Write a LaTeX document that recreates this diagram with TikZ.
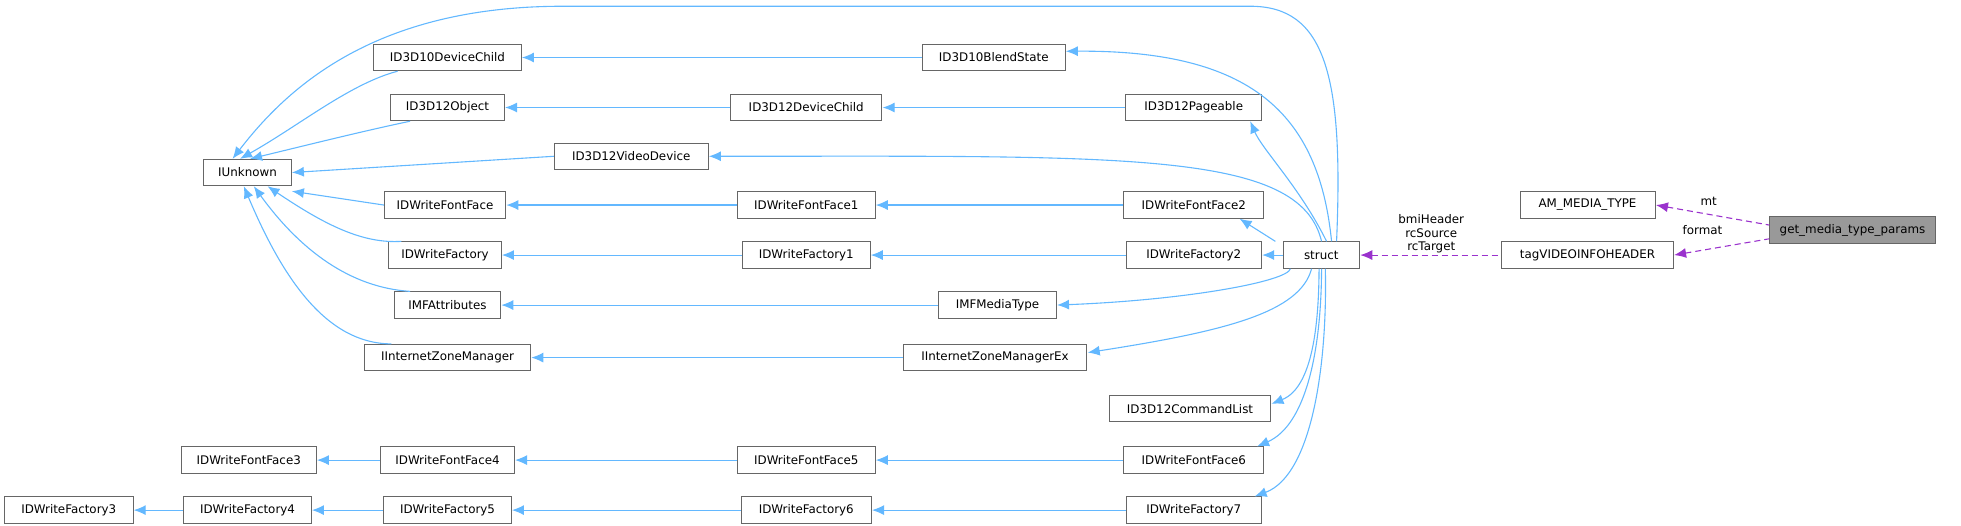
\documentclass[tikz,border=0pt]{standalone}
\usepackage{fontspec}
\setmainfont{DejaVu Sans}
\usetikzlibrary{arrows.meta}
\definecolor{eb}{HTML}{63B8FF}
\definecolor{ep}{HTML}{9A32CD}
\definecolor{bd}{HTML}{666666}
\begin{document}
\begin{tikzpicture}[x=1pt,y=-1pt,scale=1.25,every node/.append style={transform shape},
  box/.style={draw=bd,line width=0.9pt,fill=white,minimum height=21pt,inner sep=0pt,font=\fontsize{9.5}{11}\selectfont},
  inh/.style={draw=eb,line width=1.1pt,{Latex[length=12pt,width=10pt]}-},
  use/.style={draw=ep,line width=1.1pt,dash pattern=on 6pt off 4pt,{Latex[length=12pt,width=10pt]}-},
  lab/.style={font=\fontsize{9.5}{11}\selectfont,align=center,inner sep=0pt}]
\useasboundingbox (0,0) rectangle (1568.8,420.8);
\newcommand\N[5]{\node[box,minimum width=#4pt] (#1) at (#2,#3) {#5};}
\N{iu}{198}{138}{70}{IUnknown}
\N{d10c}{358}{46}{118}{ID3D10DeviceChild}
\N{d12o}{358}{86}{91}{ID3D12Object}
\N{vd}{505}{125}{123}{ID3D12VideoDevice}
\N{ff}{356}{164}{97}{IDWriteFontFace}
\N{fa}{356}{204}{90}{IDWriteFactory}
\N{mfa}{358}{244}{85}{IMFAttributes}
\N{izm}{358}{286}{133}{IInternetZoneManager}
\N{ff3}{199}{368}{108}{IDWriteFontFace3}
\N{ff4}{358}{368}{107}{IDWriteFontFace4}
\N{fa3}{55}{408}{103}{IDWriteFactory3}
\N{fa4}{198}{408}{102}{IDWriteFactory4}
\N{fa5}{358}{408}{102}{IDWriteFactory5}
\N{bs}{795}{46}{114}{ID3D10BlendState}
\N{d12c}{645}{86}{121}{ID3D12DeviceChild}
\N{ff1}{645}{164}{110}{IDWriteFontFace1}
\N{fa1}{645}{204}{102}{IDWriteFactory1}
\N{mt}{798}{244}{94}{IMFMediaType}
\N{izmx}{796}{286}{147}{IInternetZoneManagerEx}
\N{ff5}{645}{368}{110}{IDWriteFontFace5}
\N{fa6}{645}{408}{104}{IDWriteFactory6}
\N{pg}{955}{86}{109}{ID3D12Pageable}
\N{ff2}{955}{164}{112}{IDWriteFontFace2}
\N{fa2}{955}{204}{108}{IDWriteFactory2}
\N{cl}{952}{327}{129}{ID3D12CommandList}
\N{ff6}{955}{368}{112}{IDWriteFontFace6}
\N{fa7}{955}{408}{108}{IDWriteFactory7}
\N{st}{1057}{204}{61}{struct}
\N{tv}{1270}{204}{137}{tagVIDEOINFOHEADER}
\N{am}{1270}{164}{108}{AM\_MEDIA\_TYPE}
\node[box,minimum width=133pt,fill=gray!80] (gm) at (1482,184) {get\_media\_type\_params};
\coordinate (t1) at (1000,5);
\coordinate (t2) at (450,5);
% IUnknown
\draw[inh] ([xshift=-12pt]iu.north) .. controls (230,70) and (300,5) .. (t2) -- (t1) .. controls (1060,5) and (1075,60) .. ([xshift=12pt]st.north);
\draw[inh] ([xshift=-6pt]iu.north) .. controls (240,100) and (280,67) .. ([xshift=-40pt]d10c.south);
\draw[inh] ([xshift=2pt]iu.north) .. controls (250,115) and (290,105) .. ([xshift=-30pt]d12o.south);
\draw[inh] (iu.east) -- (vd.west);
\draw[inh] ([yshift=-4pt]iu.south east) -- (ff.west);
\draw[inh] ([xshift=16pt]iu.south) .. controls (260,180) and (290,195) .. ([xshift=-35pt]fa.north);
\draw[inh] ([xshift=5pt]iu.south) .. controls (240,200) and (280,230) .. ([xshift=-30pt]mfa.north);
\draw[inh] ([xshift=-3pt]iu.south) .. controls (225,220) and (260,275) .. ([xshift=-45pt]izm.north);
% chains
\draw[inh] (d10c.east) -- (bs.west);
\draw[inh] (d12o.east) -- (d12c.west);
\draw[inh] (d12c.east) -- (pg.west);
\draw[inh] (ff.east) -- (ff1.west);
\draw[inh] (ff1.east) -- (ff2.west);
\draw[inh] (fa.east) -- (fa1.west);
\draw[inh] (fa1.east) -- (fa2.west);
\draw[inh] (mfa.east) -- (mt.west);
\draw[inh] (izm.east) -- (izmx.west);
\draw[inh] (ff3.east) -- (ff4.west);
\draw[inh] (ff4.east) -- (ff5.west);
\draw[inh] (ff5.east) -- (ff6.west);
\draw[inh] (fa3.east) -- (fa4.west);
\draw[inh] (fa4.east) -- (fa5.west);
\draw[inh] (fa5.east) -- (fa6.west);
\draw[inh] (fa6.east) -- (fa7.west);
% struct to bases
\draw[inh] ([yshift=5pt]bs.east) .. controls (1000,40) and (1055,90) .. ([xshift=8pt]st.north);
\draw[inh] ([xshift=-10pt]pg.south east) .. controls (1010,120) and (1040,150) .. ([xshift=4pt]st.north);
\draw[inh] (vd.east) .. controls (900,125) and (1040,120) .. (st.north);
\draw[inh] ([xshift=-20pt]ff2.south east) -- ([xshift=-6pt]st.north west);
\draw[inh] (fa2.east) -- (st.west);
\draw[inh] (mt.east) .. controls (950,240) and (1030,225) .. ([xshift=6pt]st.south west);
\draw[inh] ([yshift=4pt]izmx.east) .. controls (980,265) and (1040,250) .. ([xshift=-8pt]st.south);
\draw[inh] ([yshift=4pt]cl.east) .. controls (1050,310) and (1055,260) .. ([xshift=-2pt]st.south);
\draw[inh] ([xshift=-6pt]ff6.north east) .. controls (1045,340) and (1057,280) .. (st.south);
\draw[inh] ([xshift=-6pt]fa7.north east) .. controls (1050,380) and (1062,290) .. ([xshift=3pt]st.south);
% usage
\draw[use] (st.east) -- (tv.west);
\draw[use] (am.east) -- ([yshift=4pt]gm.west);
\draw[use] (tv.east) -- ([yshift=-7pt]gm.west);
\node[lab] (l1) at (1145,187) {bmiHeader\\rcSource\\rcTarget};
\node[lab] (l2) at (1367,161) {mt};
\node[lab] (l3) at (1362,184) {format};
\end{tikzpicture}
\end{document}
